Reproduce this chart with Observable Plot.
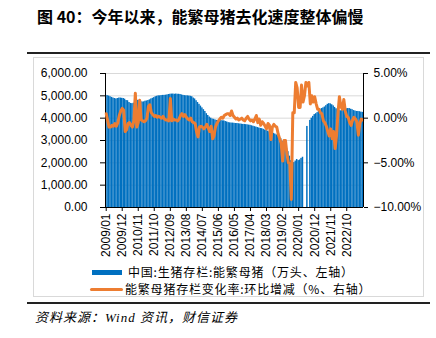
<!DOCTYPE html>
<html><head><meta charset="utf-8">
<script src="https://cdn.jsdelivr.net/npm/d3@7"></script>
<script src="https://cdn.jsdelivr.net/npm/@observablehq/plot@0.6"></script>
<style>
body{margin:0;background:#fff;}
#wrap{position:relative;width:436px;height:338px;overflow:hidden;font-family:"Noto Sans CJK SC",sans-serif;color:#000;}
#title{position:absolute;left:37px;top:4px;font-size:16px;font-weight:700;white-space:nowrap;}
.hline{position:absolute;left:27px;width:403px;height:1.5px;background:#222;}
#frame{position:absolute;left:33px;top:57px;width:389px;height:238px;border:1px solid #d9d9d9;}
#chart{position:absolute;left:0;top:0;width:436px;height:270px;}
#chart svg{position:absolute;left:0;top:0;}
.lg{position:absolute;font-size:12px;letter-spacing:0.8px;white-space:nowrap;line-height:14px;}
#caption{position:absolute;left:35px;top:307px;font-size:13px;font-style:italic;letter-spacing:1px;font-family:"Liberation Serif","Noto Sans CJK SC",serif;white-space:nowrap;}
</style></head><body>
<div id="wrap">
  <div id="title">图 40：今年以来，能繁母猪去化速度整体偏慢</div>
  <div class="hline" style="top:52px"></div>
  <div id="frame"></div>
  <div id="chart"></div>
  <div style="position:absolute;left:92px;top:270px;width:30px;height:5px;background:#0070c0"></div>
  <div class="lg" style="left:128px;top:265px">中国:生猪存栏:能繁母猪（万头、左轴）</div>
  <div style="position:absolute;left:90px;top:288px;width:33px;height:3px;border-radius:2px;background:#ed7d31"></div>
  <div class="lg" style="left:125px;top:282px">能繁母猪存栏变化率:环比增减（%、右轴）</div>
  <div class="hline" style="top:302px"></div>
  <div id="caption">资料来源：Wind 资讯，财信证券</div>
</div>
<script>
// monthly data, first month 2009/01
const startYear = 2009, startMonth = 0;
// 中国:生猪存栏:能繁母猪 (万头), monthly
const sows = [
  5020,5010,4990,4960,4930,4900,4880,4860,4880,4900,4900,4890, // 2009
  4880,4850,4790,4780,4700,4660,4650,4670,4720,4790,4800,4790, // 2010
  4740,4720,4730,4760,4770,4790,4820,4860,4890,4920,4960,4980, // 2011
  5000,5000,5010,5020,5020,5030,5040,5060,5070,5078,5080,5070, // 2012
  5080,5070,5070,5060,5040,5020,5010,5000,5000,4990,4980,4960, // 2013
  4900,4860,4780,4700,4620,4540,4460,4380,4300,4200,4120,4050, // 2014
  4000,3960,3950,3920,3900,3880,3880,3900,3880,3880,3850,3830, // 2015
  3800,3790,3780,3780,3770,3760,3760,3750,3740,3730,3720,3720, // 2016
  3710,3700,3690,3680,3660,3640,3620,3600,3580,3560,3540,3530, // 2017
  3500,3470,3450,3420,3390,3370,3350,3320,3290,3250,3200,3150, // 2018
  3080,2960,2870,2780,2640,2500,2300,2100,2000,2010,2080,2150, // 2019
  2100,2130,2200,2250,null,null,3630,null,3900,4000,4080,4160, // 2020
  4200,4250,4300,4380,4430,4460,4500,4560,4620,4650,4640,4600, // 2021
  4550,4480,4420,4360,4340,4330,4350,4380,4400,4420,4430,4430, // 2022
  4400,4380,4340,4320,4300,4300,4290,4270,4260                 // 2023
];
// 能繁母猪存栏变化率:环比增减 (%), monthly
const momChange = [
  0.5,-0.3,-1.0,-1.0,-0.8,-0.9,-0.6,-0.9,-0.5,0.3,0.8,1.1,      // 2009
  0.9,-1.5,-1.3,-0.6,-0.5,-0.8,-1.0,-0.3,2.8,-1.0,-0.5,2.0,     // 2010
  -0.2,-0.3,-0.4,-0.3,0.0,1.3,1.5,0.6,0.4,0.2,0.3,0.1,          // 2011
  0.2,0.1,0.0,0.2,-0.1,-0.2,-0.2,-0.3,2.2,-0.3,-0.1,-0.2,       // 2012
  -0.2,-0.3,-0.1,0.3,0.5,0.2,0.4,0.1,-0.1,-0.2,0.0,-0.4,        // 2013
  -0.5,-0.6,-1.5,-2.1,-1.0,-0.9,-1.0,-1.2,-1.0,-0.7,-1.1,-1.5,  // 2014
  -0.9,-2.3,-2.0,-1.0,-0.6,-0.3,-0.1,0.1,0.0,0.3,0.4,0.5,       // 2015
  0.5,0.3,0.8,0.3,0.1,-0.1,0.0,-0.2,-0.1,0.0,-0.2,-0.3,         // 2016
  0.0,0.2,-0.1,-0.3,-0.2,-0.4,-0.1,0.3,-0.5,-0.1,-0.8,-0.4,     // 2017
  -0.6,-0.9,-1.2,-0.6,-0.8,-2.4,-1.0,-0.7,-0.9,-1.0,-1.8,-2.3,  // 2018
  -2.8,-4.8,-2.5,-2.5,-4.0,-5.0,-5.1,-9.1,0.6,0.6,4.0,3.4,      // 2019
  1.2,1.2,3.7,1.8,2.5,4.0,3.6,4.0,1.6,2.5,1.8,2.4,              // 2020
  1.6,1.0,1.0,0.6,0.5,-0.3,-0.5,-0.9,-1.5,-2.0,-1.2,-2.3,       // 2021
  -1.5,-3.4,-2.0,0.5,2.4,1.3,1.0,2.1,0.8,0.2,0.1,-0.5,          // 2022
  -0.8,-0.2,0.1,-0.1,-0.4,-1.9,-0.6,-0.1,-0.2                   // 2023
];
const leftTicks = [0,1000,2000,3000,4000,5000,6000];
const rightTicks = [-10,-5,0,5];
const xTickEvery = 11; // label every 11 months

const start = new Date(Date.UTC(startYear, startMonth, 1));
const nMonths = sows.length;
const end = d3.utcMonth.offset(start, nMonths);
const monthStart = i => d3.utcMonth.offset(start, i);
const monthMid = i => d3.utcDay.offset(monthStart(i), 15);

const barData = sows.map((v,i)=>({d0:monthStart(i), d1:monthStart(i+1), v})).filter(d=>d.v!=null);
const lineData = momChange.map((v,i)=>({d:monthMid(i), v}));
const xTicks = d3.range(0, nMonths, xTickEvery).filter(i=>i<nMonths-3).map(monthMid);

const W=436, H=270;
const margins = {marginLeft:105, marginRight:73, marginTop:73, marginBottom:63};
const font = {fontSize:"12px", fontFamily:"'Liberation Sans', Arial, sans-serif", background:"transparent", color:"#000"};

const p1 = Plot.plot({
  width:W, height:H, ...margins,
  style: font,
  x: {type:"utc", domain:[start,end], ticks:xTicks, tickFormat:d3.utcFormat("%Y/%m"), tickRotate:-90, tickSize:4, tickPadding:2, label:null},
  y: {domain:[0,6000], ticks:leftTicks, tickFormat:d3.format(",.2f"), tickSize:5, tickPadding:13, label:null},
  marks: [
    Plot.ruleY(leftTicks.slice(1), {stroke:"#d9d9d9", strokeWidth:1}),
    Plot.rectY(barData, {x1:"d0", x2:"d1", y:"v", fill:"#0070c0"}),
    Plot.ruleX([start], {stroke:"#000", strokeWidth:1}),
    Plot.ruleY([0], {stroke:"#000", strokeWidth:1})
  ]
});
const p2 = Plot.plot({
  width:W, height:H, ...margins,
  style: font,
  x: {type:"utc", domain:[start,end], axis:null},
  y: {domain:[-10,5], axis:"right", ticks:rightTicks, tickFormat:d=>(d<0?"\u2212":"")+Math.abs(d).toFixed(2)+"%", tickSize:4, tickPadding:6, label:null},
  marks: [
    Plot.line(lineData, {x:"d", y:"v", stroke:"#ed7d31", strokeWidth:3, strokeLinejoin:"round"}),
    Plot.ruleX([end], {stroke:"#000", strokeWidth:1})
  ]
});
const c = document.getElementById("chart");
c.appendChild(p1); c.appendChild(p2);
</script>
</body></html>
